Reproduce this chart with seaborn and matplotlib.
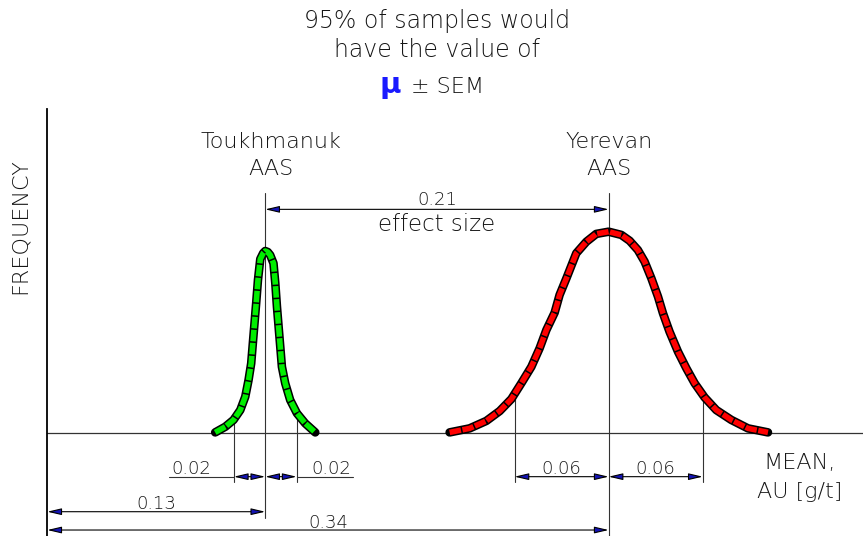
import numpy as np
import matplotlib
matplotlib.use('Agg')
import matplotlib.pyplot as plt
import seaborn as sns

# ---- data ----
# group means and standard errors [AU g/t]
tou_mean = 0.132
tou_sem = 0.019
yer_mean = 0.34
yer_sem = 0.057

# Toukhmanuk curve: offset from mean [AU g/t] and relative frequency
tou_dx = [-0.0303, -0.0242, -0.0192, -0.0151, -0.0121, -0.0101, -0.0085, -0.0075, -0.0065,
          -0.0055, -0.0044, -0.0030, -0.0012, 0.0, 0.0015, 0.0030, 0.0050, 0.0061, 0.0071,
          0.0081, 0.0091, 0.0101, 0.0121, 0.0151, 0.0192, 0.0242, 0.0303]
tou_freq = [0.003, 0.031, 0.065, 0.114, 0.180, 0.263, 0.346, 0.446, 0.545,
            0.644, 0.760, 0.864, 0.894, 0.904, 0.899, 0.884, 0.843, 0.744, 0.627,
            0.528, 0.429, 0.329, 0.247, 0.164, 0.098, 0.048, 0.003]

# Yerevan curve
yer_dx = [-0.0963, -0.0842, -0.0741, -0.0660, -0.0589, -0.0529, -0.0468, -0.0418,
          -0.0377, -0.0327, -0.0297, -0.0256, -0.0196, -0.0135, -0.0075, 0.0,
          0.0077, 0.0127, 0.0177, 0.0218, 0.0259, 0.0299, 0.0329, 0.0369,
          0.0420, 0.0471, 0.0521, 0.0581, 0.0652, 0.0743, 0.0844, 0.0965]
yer_freq = [0.003, 0.023, 0.060, 0.109, 0.169, 0.247, 0.329, 0.421,
            0.512, 0.598, 0.686, 0.768, 0.893, 0.950, 0.989, 1.0,
            0.984, 0.955, 0.909, 0.851, 0.768, 0.677, 0.595, 0.503,
            0.404, 0.321, 0.247, 0.177, 0.114, 0.065, 0.023, 0.003]

# dimension labels as printed
lab_tou_sem = '0.02'
lab_yer_sem = '0.06'
lab_tou = '0.13'
lab_yer = '0.34'
lab_effect = '0.21'

# ---- style ----
sns.set_style('white')
plt.rcParams['font.family'] = ['DejaVu Sans']
plt.rcParams['lines.scale_dashes'] = False

line_c = '#333333'
text_c = '#161616'
arrow_fc = '#1414b4'
txt = dict(color=text_c, fontweight='light')

fig = plt.figure(figsize=(8.63, 5.36), dpi=100)
ax = fig.add_axes([47.3 / 863, 0, 1 - 47.3 / 863, (536 - 109) / 536])

tou_x = tou_mean + np.array(tou_dx)
yer_x = yer_mean + np.array(yer_dx)

# curves: black body with coloured dashes on top -> segmented look
for xs, ys, col in [(tou_x, tou_freq, '#00ee00'), (yer_x, yer_freq, '#ff0000')]:
    sns.lineplot(x=xs, y=ys, ax=ax, color='black', lw=6.2, estimator=None, sort=False,
                 solid_capstyle='round', solid_joinstyle='round', zorder=5)
    sns.lineplot(x=xs, y=ys, ax=ax, color=col, lw=4.0, estimator=None, sort=False,
                 linestyle=(0, (8.3, 1.1)), dash_capstyle='butt', dash_joinstyle='round',
                 zorder=6)

# baseline
ax.axhline(0, color=line_c, lw=0.9, zorder=2)

# extension lines
def vline(x, y0, y1, lw=0.8):
    ax.plot([x, x], [y0, y1], color=line_c, lw=lw, zorder=3)

vline(tou_mean, -0.422, 1.194)
vline(yer_mean, -0.52, 1.194)
for m, s, xs, ys in [(tou_mean, tou_sem, tou_x, tou_freq), (yer_mean, yer_sem, yer_x, yer_freq)]:
    for e in (m - s, m + s):
        vline(e, -0.243, np.interp(e, xs, ys))

# dimension arrows
def dim(x1, x2, y):
    ax.annotate('', xy=(x1, y), xytext=(x2, y),
                arrowprops=dict(arrowstyle='<|-|>,head_length=0.85,head_width=0.2',
                                fc=arrow_fc, ec='black', lw=0.8,
                                shrinkA=0, shrinkB=0, mutation_scale=10),
                zorder=4)

dim(tou_mean, yer_mean, 1.111)
dim(tou_mean - tou_sem, tou_mean, -0.217)
dim(tou_mean, tou_mean + tou_sem, -0.217)
dim(yer_mean - yer_sem, yer_mean, -0.217)
dim(yer_mean, yer_mean + yer_sem, -0.217)
dim(0, tou_mean, -0.391)
dim(0, yer_mean, -0.482)

# leader lines under the small 0.02 labels
ax.plot([0.074, tou_mean - tou_sem], [-0.217, -0.217], color=line_c, lw=0.8)
ax.plot([tou_mean + tou_sem, 0.185], [-0.217, -0.217], color=line_c, lw=0.8)

# dimension texts
num = dict(txt, fontsize=13, ha='center', va='baseline')
ax.text((tou_mean + yer_mean) / 2, 1.133, lab_effect, **num)
ax.text((tou_mean + yer_mean) / 2, 1.003, 'effect size', **dict(num, fontsize=16.5))
ax.text(0.087, -0.204, lab_tou_sem, **num)
ax.text(0.1718, -0.204, lab_tou_sem, **num)
ax.text(yer_mean - yer_sem / 2, -0.204, lab_yer_sem, **num)
ax.text(yer_mean + yer_sem / 2, -0.204, lab_yer_sem, **num)
ax.text(tou_mean / 2, -0.378, lab_tou, **num)
ax.text(yer_mean / 2, -0.472, lab_yer, **num)

# group labels
lab = dict(txt, fontsize=16, ha='center', va='baseline')
ax.text(0.1355, 1.416, 'Toukhmanuk', **lab)
ax.text(0.1355, 1.282, 'AAS', **lab)
ax.text(yer_mean, 1.416, 'Yerevan', **lab)
ax.text(yer_mean, 1.282, 'AAS', **lab)
ax.text(0.4555, -0.179, 'MEAN,', **lab)
ax.text(0.4555, -0.323, 'AU [g/t]', **lab)

# axis frame
ax.set_xlim(0, (863 - 47.3) / 1651)
ax.set_ylim(-0.5117, 1.6095)
ax.set_xticks([])
ax.set_yticks([])
ax.set_xlabel('')
ax.set_ylabel('')
for s in ['top', 'right', 'bottom']:
    ax.spines[s].set_visible(False)
ax.spines['left'].set_color('black')
ax.spines['left'].set_linewidth(1.3)

fig.text(20 / 863, 1 - 226 / 536, 'FREQUENCY', rotation=90, ha='center', va='center',
         fontsize=16, **txt)

# heading
fig.text(437.5 / 863, 1 - 28 / 536, '95% of samples would', ha='center', va='baseline',
         fontsize=17, **txt)
fig.text(437 / 863, 1 - 57 / 536, 'have the value of', ha='center', va='baseline',
         fontsize=17, **txt)
fig.text(390 / 863, 1 - 93 / 536, 'μ', ha='center', va='baseline', fontsize=21,
         color='#1a1aff', fontweight='bold')
fig.text(411 / 863, 1 - 93 / 536, '± SEM', ha='left', va='baseline', fontsize=16, **txt)

plt.savefig('out.png', dpi=100)
plt.close()
